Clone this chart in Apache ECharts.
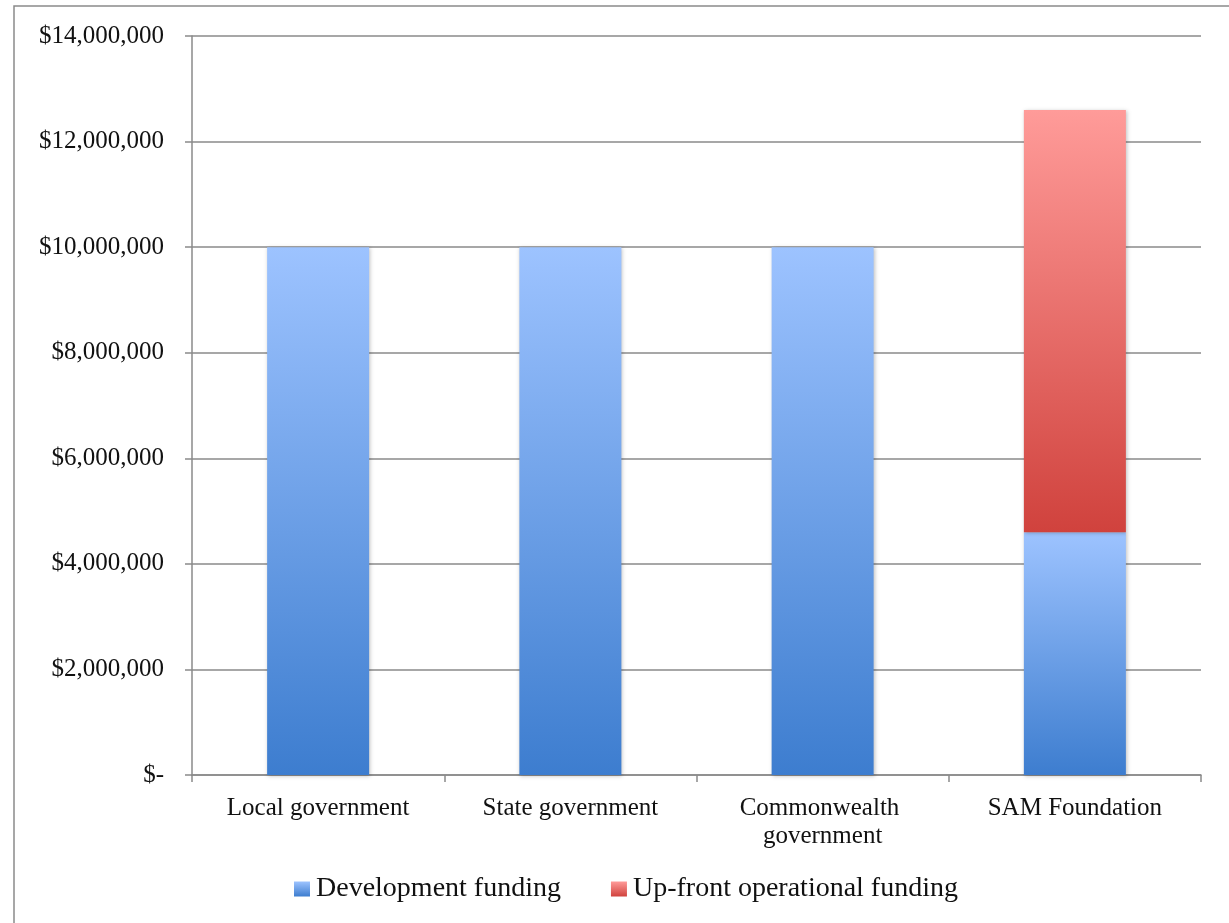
<!DOCTYPE html>
<html>
<head>
<meta charset="utf-8">
<script src="https://cdn.jsdelivr.net/npm/echarts@6/dist/echarts.min.js"></script>
<style>
  html, body { margin: 0; padding: 0; background: #fff; }
  #chart { width: 1229px; height: 923px; }
</style>
</head>
<body>
<div id="chart"></div>
<script>
// funding sources
const categories = ['Local government', 'State government', 'Commonwealth government', 'SAM Foundation']
const developmentFunding = [10000000, 10000000, 10000000, 4600000]
const operationalFunding = [0, 0, 0, 8000000]
const seriesNames = ['Development funding', 'Up-front operational funding']

const font = 'Liberation Serif'

function gradient(top, bottom) {
  return {
    type: 'linear', x: 0, y: 0, x2: 0, y2: 1,
    colorStops: [{ offset: 0, color: top }, { offset: 1, color: bottom }]
  }
}

const barShadow = {
  shadowBlur: 4,
  shadowColor: 'rgba(0, 0, 0, 0.25)',
  shadowOffsetX: 1,
  shadowOffsetY: 1
}

const option = {
  animation: false,
  graphic: [{
    type: 'rect',
    shape: { x: 14, y: 6, width: 1400, height: 1100 },
    style: { fill: 'none', stroke: '#8a8a8a', lineWidth: 1.5 }
  }],
  grid: { left: 192, right: 28, top: 36, bottom: 148 },
  legend: {
    bottom: 15,
    left: 289,
    icon: 'rect',
    itemWidth: 16,
    itemHeight: 15,
    itemGap: 50,
    textStyle: { fontFamily: font, fontSize: 28, color: '#111', padding: [0, 0, 0, 1] },
    data: seriesNames
  },
  xAxis: {
    type: 'category',
    data: categories,
    axisLine: { lineStyle: { color: '#8a8a8a', width: 1.5 } },
    axisTick: { show: true, length: 7, lineStyle: { color: '#8a8a8a', width: 1.5 } },
    axisLabel: {
      interval: 0,
      margin: 19,
      width: 215,
      overflow: 'break',
      lineHeight: 28,
      fontFamily: font,
      fontSize: 25,
      color: '#111'
    }
  },
  yAxis: {
    type: 'value',
    min: 0,
    max: 14000000,
    interval: 2000000,
    axisLine: { show: true, lineStyle: { color: '#8a8a8a', width: 1.5 } },
    axisTick: { show: true, length: 7, lineStyle: { color: '#8a8a8a', width: 1.5 } },
    splitLine: { lineStyle: { color: '#8a8a8a', width: 1.5 } },
    axisLabel: {
      margin: 28,
      fontFamily: font,
      fontSize: 25,
      color: '#111',
      formatter: v => v === 0 ? '$-' : '$' + v.toLocaleString('en-US')
    }
  },
  series: [
    {
      name: seriesNames[0],
      type: 'bar',
      stack: 'funding',
      barWidth: 102,
      data: developmentFunding,
      itemStyle: Object.assign({ color: gradient('#9dc3ff', '#3d7dcf') }, barShadow)
    },
    {
      name: seriesNames[1],
      type: 'bar',
      stack: 'funding',
      barWidth: 102,
      data: operationalFunding.map(v => v === 0 ? '-' : v),
      itemStyle: Object.assign({ color: gradient('#ff9b99', '#d0423d') }, barShadow)
    }
  ]
}

const chart = echarts.init(document.getElementById('chart'))
chart.setOption(option)
</script>
</body>
</html>
